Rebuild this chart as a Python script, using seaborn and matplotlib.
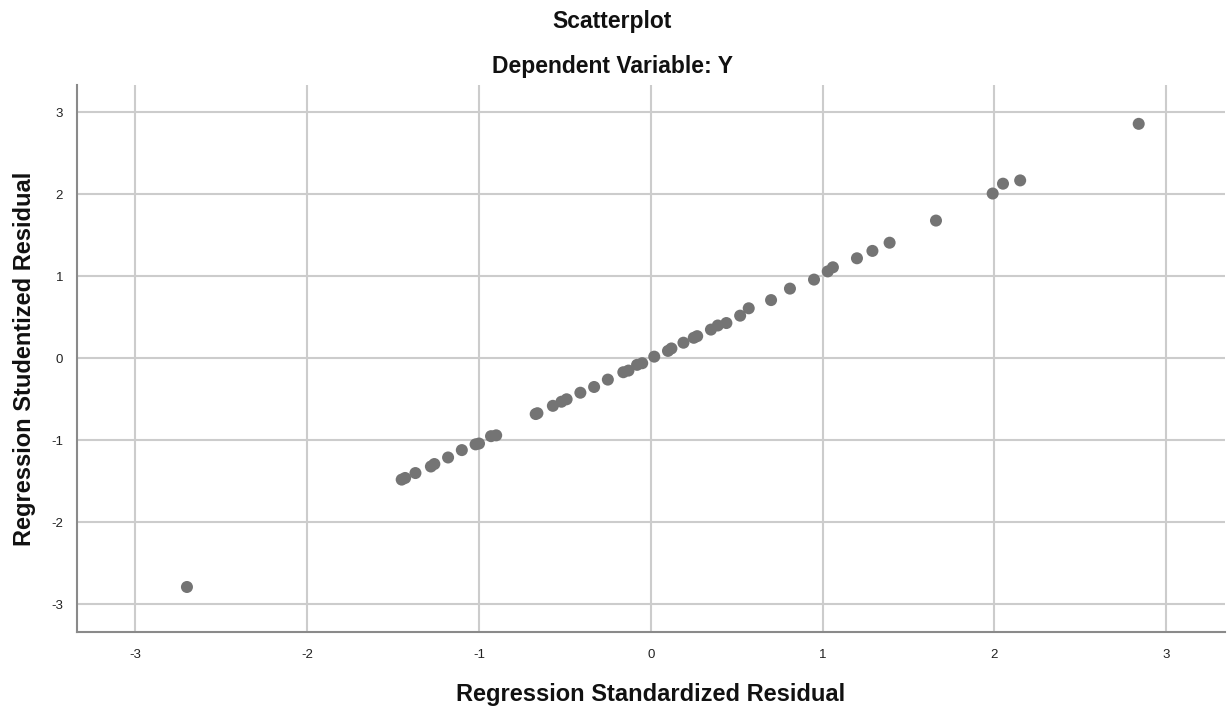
import matplotlib
matplotlib.use("Agg")
import matplotlib.pyplot as plt
import seaborn as sns
import pandas as pd

std_resid = [-2.70, -1.45, -1.43, -1.37, -1.28, -1.26, -1.18, -1.10, -1.02, -1.00,
             -0.93, -0.90, -0.67, -0.66, -0.57, -0.52, -0.49, -0.41, -0.33, -0.25,
             -0.16, -0.13, -0.08, -0.05, 0.02, 0.10, 0.12, 0.19, 0.25, 0.27,
             0.35, 0.39, 0.44, 0.52, 0.57, 0.70, 0.81, 0.95, 1.03, 1.06,
             1.20, 1.29, 1.39, 1.66, 1.99, 2.05, 2.15, 2.84]
stud_resid = [-2.79, -1.48, -1.46, -1.40, -1.32, -1.29, -1.21, -1.12, -1.05, -1.04,
              -0.95, -0.94, -0.68, -0.67, -0.58, -0.53, -0.50, -0.42, -0.35, -0.26,
              -0.17, -0.15, -0.08, -0.06, 0.02, 0.09, 0.12, 0.19, 0.25, 0.27,
              0.35, 0.40, 0.43, 0.52, 0.61, 0.71, 0.85, 0.96, 1.06, 1.11,
              1.22, 1.31, 1.41, 1.68, 2.01, 2.13, 2.17, 2.86]
ticks = [-3, -2, -1, 0, 1, 2, 3]

df = pd.DataFrame({"x": std_resid, "y": stud_resid})

sns.set_theme(style="white")
plt.rcParams["font.family"] = ["Liberation Sans", "DejaVu Sans"]

fig = plt.figure(figsize=(12.32, 7.11), dpi=100)
ax = fig.add_axes([0.0625, 0.111, 0.9315, 0.769])

sns.scatterplot(data=df, x="x", y="y", ax=ax, color="#747474", s=75,
                edgecolor="none", zorder=3)

ax.set_xlim(-3.34, 3.34)
ax.set_ylim(-3.34, 3.33)
ax.set_xticks(ticks)
ax.set_yticks(ticks)
ax.set_xticklabels([str(t) for t in ticks], fontsize=9.5, color="#222222")
ax.set_yticklabels([str(t) for t in ticks], fontsize=9.5, color="#222222")
ax.tick_params(axis="x", length=0, pad=12)
ax.tick_params(axis="y", length=0, pad=10)
ax.grid(True, color="#cccccc", linewidth=1.5, zorder=0)
ax.set_axisbelow(True)
for s in ["top", "right"]:
    ax.spines[s].set_visible(False)
for s in ["left", "bottom"]:
    ax.spines[s].set_color("#8a8a8a")
    ax.spines[s].set_linewidth(1.5)

ax.set_xlabel("Regression Standardized Residual", fontsize=17, fontweight="bold",
              labelpad=16, color="#111111")
ax.set_ylabel("Regression Studentized Residual", fontsize=17, fontweight="bold",
              labelpad=11, color="#111111")

fig.text(0.497, 0.970, "Scatterplot", ha="center", va="center", fontsize=16.5,
         fontweight="bold", color="#111111")
fig.text(0.497, 0.906, "Dependent Variable: Y", ha="center", va="center", fontsize=16.5,
         fontweight="bold", color="#111111")

fig.savefig("out.png", dpi=100)
